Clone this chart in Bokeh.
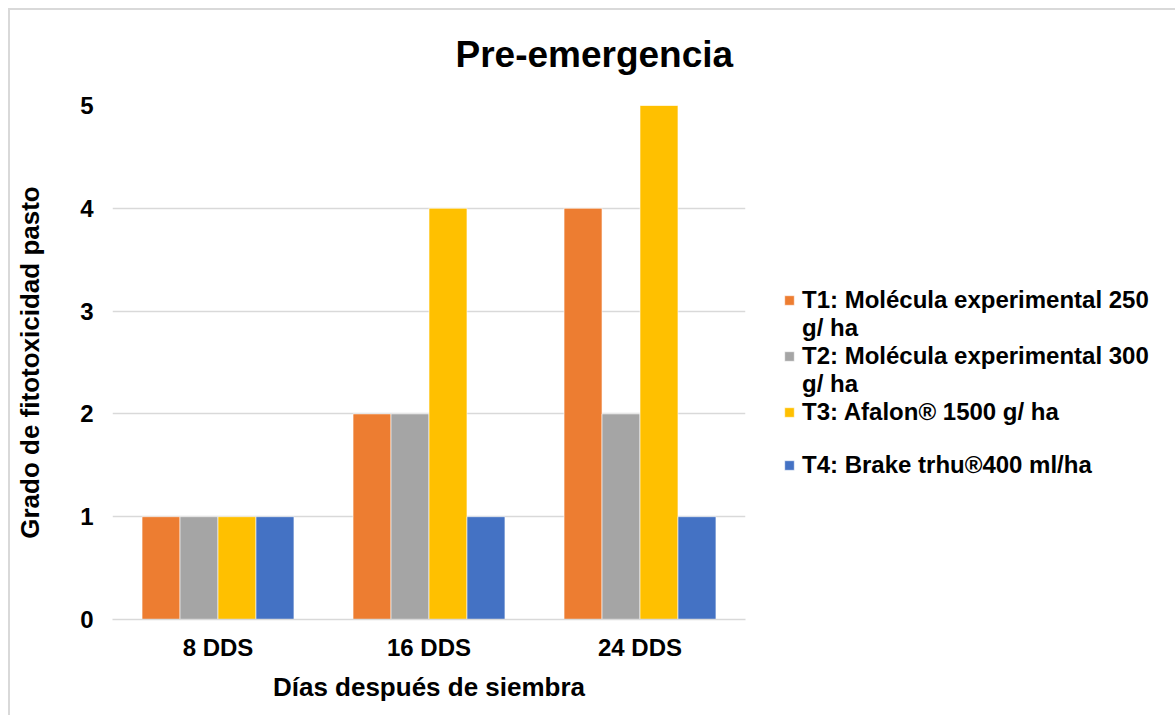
from bokeh.plotting import figure
from bokeh.models import Range1d, FactorRange, Legend, LegendItem, Title, ColumnDataSource
from bokeh.transform import dodge
from bokeh.embed import file_html
from bokeh.resources import INLINE

categories = ["8 DDS", "16 DDS", "24 DDS"]
t1 = [1, 2, 4]
t2 = [1, 2, 2]
t3 = [1, 4, 5]
t4 = [1, 1, 1]
# legend labels, one list per series (wrapped lines as in the reference)
series_labels = [
    ["T1: Molécula experimental 250", "g/ ha"],
    ["T2: Molécula experimental 300", "g/ ha"],
    ["T3: Afalon® 1500 g/ ha", " "],
    ["T4: Brake trhu®400 ml/ha"],
]
colors = ["#ED7D31", "#A5A5A5", "#FFC000", "#4472C4"]
y_ticks = [0, 1, 2, 3, 4, 5]

FONT = "Liberation Sans"

source = ColumnDataSource(dict(cat=categories, t1=t1, t2=t2, t3=t3, t4=t4))

p = figure(
    x_range=FactorRange(*categories, range_padding=0),
    y_range=Range1d(0, 5),
    frame_width=633, frame_height=514,
    output_backend="svg", toolbar_location=None,
    min_border_left=102, min_border_right=0, min_border_top=95, min_border_bottom=96,
)
p.styles = {"margin-left": "8px", "margin-top": "8px",
            "border-top": "2px solid #d9d9d9", "border-left": "2px solid #d9d9d9"}
p.outline_line_color = None

offsets = [-0.27, -0.09, 0.09, 0.27]
keys = ["t1", "t2", "t3", "t4"]
renderers = []
for k, off, c in zip(keys, offsets, colors):
    r = p.vbar(x=dodge("cat", off, range=p.x_range), top=k, width=0.18, source=source,
               fill_color=c, line_color="white", line_width=0.6)
    renderers.append(r)

p.xgrid.grid_line_color = None
p.ygrid.grid_line_color = "#d9d9d9"
p.ygrid.grid_line_width = 1.5
p.yaxis.ticker = y_ticks

for ax in (p.xaxis[0], p.yaxis[0]):
    ax.major_tick_line_color = None
    ax.minor_tick_line_color = None
    ax.major_tick_out = 0
    ax.major_tick_in = 0
    ax.minor_tick_out = 0
    ax.major_label_text_font = FONT
    ax.major_label_text_font_style = "bold"
    ax.major_label_text_font_size = "24px"
    ax.major_label_text_color = "black"
    ax.axis_label_text_font = FONT
    ax.axis_label_text_font_style = "bold"
    ax.axis_label_text_font_size = "26px"
    ax.axis_label_text_color = "black"

p.yaxis.axis_line_color = None
p.xaxis.axis_line_color = "#d9d9d9"
p.xaxis.axis_line_width = 1.5

p.yaxis.axis_label = "Grado de fitotoxicidad pasto"
p.xaxis.axis_label = "Días después de siembra"
p.yaxis.major_label_standoff = 19
p.yaxis.axis_label_standoff = 32
p.xaxis.major_label_standoff = 14
p.xaxis.axis_label_standoff = 8

# spacer (closest to the frame) then the real title above it
p.add_layout(Title(text=" ", text_font=FONT, text_font_size="16px", standoff=6), "above")
p.add_layout(Title(text="Pre-emergencia", align="left", offset=343, vertical_align="middle",
                   text_font=FONT, text_font_style="bold", text_font_size="37px",
                   text_color="black"), "above")

items = []
for lines, r in zip(series_labels, renderers):
    items.append(LegendItem(label=lines[0], renderers=[r]))
    for extra in lines[1:]:
        items.append(LegendItem(label=extra, renderers=[]))

legend = Legend(
    items=items,
    location=(38, 140),
    label_text_font=FONT, label_text_font_style="bold", label_text_font_size="24px",
    label_text_color="black", label_height=25, label_text_line_height=1.0,
    glyph_width=12, glyph_height=12, label_standoff=7, spacing=0,
    background_fill_alpha=0, border_line_color=None, padding=0, margin=0,
)
p.add_layout(legend, "right")

open("out.html", "w").write(file_html(p, INLINE))
